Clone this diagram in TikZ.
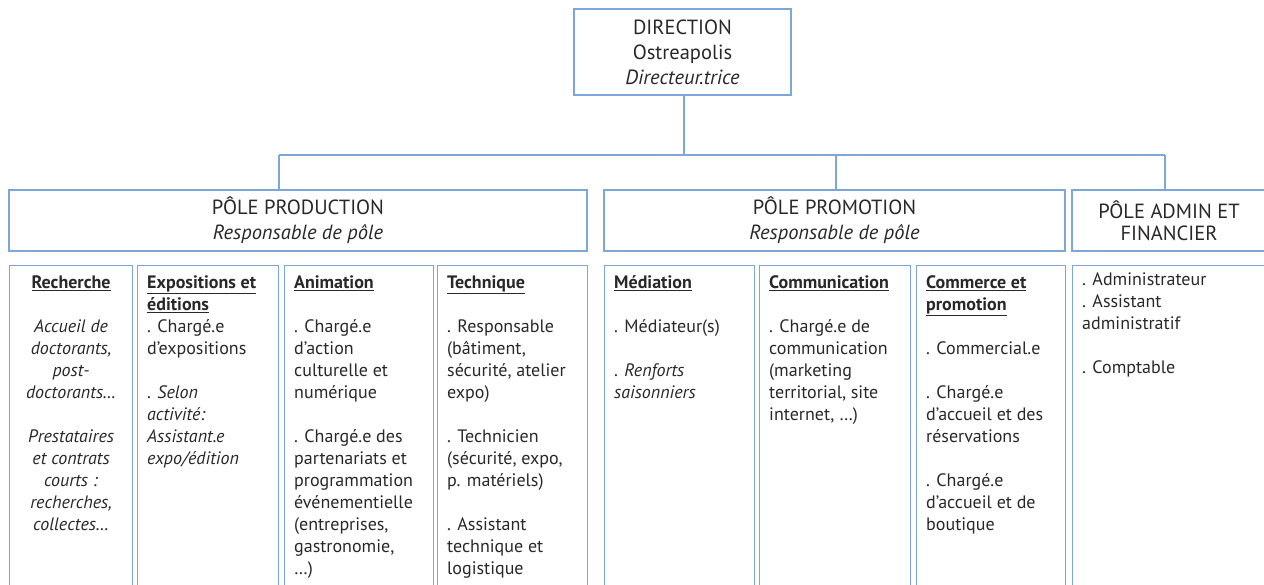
\documentclass[tikz,border=0pt]{standalone}
\usepackage{fontspec}
\setmainfont{PT Sans}
\usepackage{tikz}
\usetikzlibrary{positioning}

\definecolor{boxblue}{RGB}{125,166,218}
\definecolor{ink}{RGB}{40,40,40}
\newcommand{\colhead}[1]{\underline{\textbf{#1}}}

\begin{document}
\begin{tikzpicture}[x=1pt, y=-1pt,
	big/.style={font=\fontsize{20.5}{25}\selectfont, text=ink},
	small/.style={font=\fontsize{18}{22}\selectfont, text=ink},
	polebox/.style={draw=boxblue, line width=1.2pt, inner sep=0pt, align=center, big},
	colbox/.style={draw=boxblue, line width=1.2pt, inner sep=0pt, anchor=north west, minimum height=340pt},
	coltext/.style={small, inner sep=0pt, align=left, anchor=north west, xshift=10pt, yshift=-7.6pt},
	link/.style={draw=boxblue, line width=1.2pt}]
	\useasboundingbox (0,0) rectangle (1264,585);
	\clip (0,0) rectangle (1264,585);
	% direction and poles
	\node[polebox, minimum width=217pt, minimum height=86pt] (dir) at (682.5,52) {DIRECTION\\Ostreapolis\\\textit{Directeur.trice}};
	\node[polebox, minimum width=578pt, minimum height=61pt] (prod) at (298,220.5) {PÔLE PRODUCTION\\\textit{Responsable de pôle}};
	\node[polebox, minimum width=461pt, minimum height=61pt] (promo) at (834.5,220.5) {PÔLE PROMOTION\\\textit{Responsable de pôle}};
	\node[polebox, minimum width=194pt, minimum height=61pt, font=\fontsize{20.5}{21.5}\selectfont] (admin) at (1169,220.5) {PÔLE ADMIN ET\\FINANCIER};
	% links
	\coordinate (bus) at (684,155);
	\coordinate (tapprod) at (279,155);
	\coordinate (tappromo) at (836,155);
	\coordinate (tapadmin) at (1165,155);
	\draw[link] (dir.south -| bus) -- (bus);
	\draw[link] (tapprod) -- (tapadmin);
	\draw[link] (tapprod) -- (tapprod |- prod.north);
	\draw[link] (tappromo) -- (tappromo |- promo.north);
	\draw[link] (tapadmin) -- (tapadmin |- admin.north);
	% columns
	\node[colbox, minimum width=123pt] (rech) at (9,265) {};
	\node[colbox, minimum width=141pt] (expo) at (137,265) {};
	\node[colbox, minimum width=149pt] (anim) at (284,265) {};
	\node[colbox, minimum width=150pt] (tech) at (437,265) {};
	\node[colbox, minimum width=150pt] (medi) at (604,265) {};
	\node[colbox, minimum width=151pt] (comm) at (759,265) {};
	\node[colbox, minimum width=149pt] (comr) at (916,265) {};
	\node[colbox, minimum width=194pt] (adm) at (1072,265) {};
	% column texts
	\node[small, inner sep=0pt, align=center, anchor=north, yshift=-7.6pt] (rechtxt) at (rech.north) {\strut\colhead{Recherche}\\ \\\textit{Accueil de}\\\textit{doctorants,}\\\textit{post-}\\\textit{doctorants…}\\ \\\textit{Prestataires}\\\textit{et contrats}\\\textit{courts :}\\\textit{recherches,}\\\textit{collectes…}};
	\node[coltext] (expotxt) at (expo.north west) {\strut\colhead{Expositions et}\\\colhead{éditions}\\. Chargé.e\\d'expositions\\ \\. \textit{Selon}\\\textit{activité:}\\\textit{Assistant.e}\\\textit{expo/édition}};
	\node[coltext] (animtxt) at (anim.north west) {\strut\colhead{Animation}\\ \\. Chargé.e\\d'action\\culturelle et\\numérique\\ \\. Chargé.e des\\partenariats et\\programmation\\événementielle\\(entreprises,\\gastronomie,\\…)};
	\node[coltext] (techtxt) at (tech.north west) {\strut\colhead{Technique}\\ \\. Responsable\\(bâtiment,\\sécurité, atelier\\expo)\\ \\. Technicien\\(sécurité, expo,\\p. matériels)\\ \\. Assistant\\technique et\\logistique};
	\node[coltext] (meditxt) at (medi.north west) {\strut\colhead{Médiation}\\ \\. Médiateur(s)\\ \\. \textit{Renforts}\\\textit{saisonniers}};
	\node[coltext] (commtxt) at (comm.north west) {\strut\colhead{Communication}\\ \\. Chargé.e de\\communication\\(marketing\\territorial, site\\internet, …)};
	\node[coltext] (comrtxt) at (comr.north west) {\strut\colhead{Commerce et}\\\colhead{promotion}\\ \\. Commercial.e\\ \\. Chargé.e\\d'accueil et des\\réservations\\ \\. Chargé.e\\d'accueil et de\\boutique};
	\node[coltext, yshift=3pt] (admtxt) at (adm.north west) {\strut. Administrateur\\. Assistant\\administratif\\ \\. Comptable};
\end{tikzpicture}
\end{document}
